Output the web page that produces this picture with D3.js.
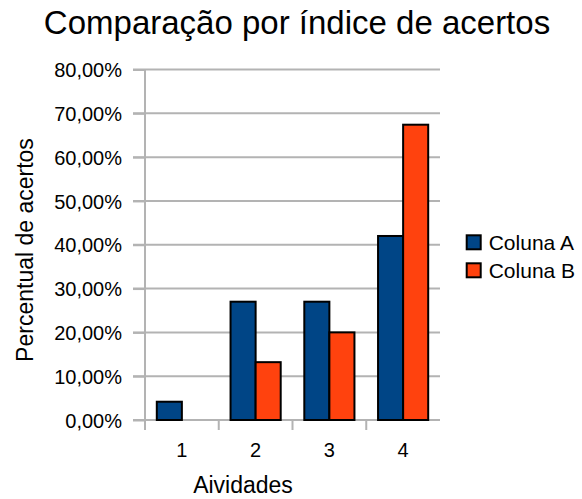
<!DOCTYPE html>
<html>
<head>
<meta charset="utf-8">
<script src="https://cdn.jsdelivr.net/npm/d3@7"></script>
<style>
  body { margin: 0; background: #fff; }
  svg text { font-family: "Liberation Sans", Arial, sans-serif; fill: #000; }
  .grid line { stroke: #b3b3b3; stroke-width: 2; }
  .axis path, .axis line { stroke: #b3b3b3; stroke-width: 2; }
  .bar { stroke: #000; stroke-width: 2; }
</style>
</head>
<body>
<svg id="chart" width="582" height="499"></svg>
<script>
'use strict';

const categories = ['1', '2', '3', '4'];
const seriesNames = ['Coluna A', 'Coluna B'];
const colunaA = [4.17, 27, 27, 42];
const colunaB = [0, 13.2, 20, 67.4];
const yTicks = [0, 10, 20, 30, 40, 50, 60, 70, 80];
const colors = ['#004586', '#ff420e'];

const rows = categories.map((c, i) => ({ cat: c, values: [colunaA[i], colunaB[i]] }));

const margin = { top: 69.5, right: 142, bottom: 79, left: 145 };
const w = 582, h = 499;
const width = w - margin.left - margin.right,
  height = h - margin.top - margin.bottom;

const root = d3.select('#chart');
const svg = root.append('g').attr('transform', `translate(${ margin.left }, ${ margin.top })`);

const x = d3.scaleBand().domain(categories).range([0, width]).padding(0);
const xs = d3.scaleBand().domain(d3.range(seriesNames.length))
  .range([x.bandwidth() * 0.16, x.bandwidth() * 0.84]).padding(0);
const y = d3.scaleLinear().domain([0, 80]).range([height, 0]);

const fmt = v => d3.format('.2f')(v).replace('.', ',') + '%';

// GRID
svg.append('g').attr('class', 'grid')
  .selectAll('line').data(yTicks).join('line')
  .attr('x1', -12).attr('x2', width)
  .attr('y1', d => y(d)).attr('y2', d => y(d));

// Y AXIS
const yAxis = svg.append('g').attr('class', 'axis y')
  .call(d3.axisLeft(y).tickValues(yTicks).tickSize(12).tickPadding(11).tickFormat(fmt));
yAxis.select('.domain').remove();
yAxis.selectAll('text').style('font-size', '20px').attr('dy', '0.36em');
svg.append('line').attr('class', 'axis')
  .attr('x1', 0).attr('x2', 0).attr('y1', 0).attr('y2', height + 10)
  .style('stroke', '#b3b3b3').style('stroke-width', 2);

// X AXIS
const xAxis = svg.append('g').attr('class', 'axis x').attr('transform', `translate(0, ${ height })`)
  .call(d3.axisBottom(x).tickSize(0).tickPadding(0));
xAxis.select('.domain').remove();
xAxis.selectAll('text').style('font-size', '20px').attr('dy', null).attr('y', 37);
xAxis.selectAll('line.sep').data(categories.slice(1)).join('line')
  .attr('class', 'sep')
  .attr('x1', d => x(d)).attr('x2', d => x(d)).attr('y1', 0).attr('y2', 10)
  .style('stroke', '#b3b3b3').style('stroke-width', 2);

// BARS
const groups = svg.append('g').selectAll('g').data(rows).join('g')
  .attr('transform', d => `translate(${ x(d.cat) }, 0)`);
groups.selectAll('rect').data(d => d.values.map((v, i) => ({ v, i })).filter(e => e.v > 0)).join('rect')
  .attr('class', 'bar')
  .attr('x', d => xs(d.i))
  .attr('width', xs.bandwidth())
  .attr('y', d => y(d.v))
  .attr('height', d => height - y(d.v))
  .style('fill', d => colors[d.i]);

// TITLES
root.append('text').attr('x', 297).attr('y', 34).attr('text-anchor', 'middle')
  .style('font-size', '33px').text('Comparação por índice de acertos');
root.append('text').attr('x', 243).attr('y', 493).attr('text-anchor', 'middle')
  .style('font-size', '23px').text('Aividades');
root.append('text').attr('transform', 'translate(33, 250) rotate(-90)')
  .attr('text-anchor', 'middle').style('font-size', '23px').text('Percentual de acertos');

// LEGEND
const legend = root.append('g').attr('transform', 'translate(466.7, 235.3)');
const item = legend.selectAll('g').data(seriesNames).join('g')
  .attr('transform', (d, i) => `translate(0, ${ i * 28 })`);
item.append('rect').attr('width', 14).attr('height', 14)
  .style('fill', (d, i) => colors[i]).style('stroke', '#000').style('stroke-width', 2);
item.append('text').attr('x', 22).attr('y', 14.7).style('font-size', '21px').text(d => d);
</script>
</body>
</html>
